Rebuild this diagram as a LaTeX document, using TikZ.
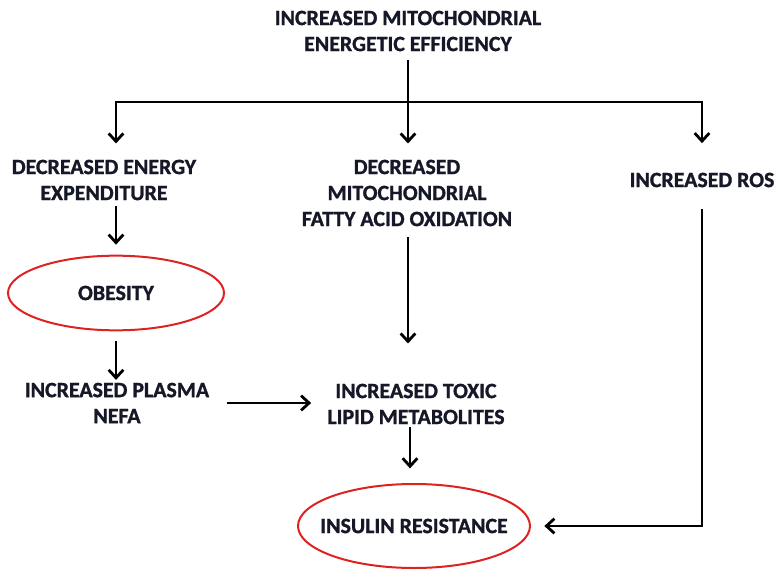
\documentclass[tikz,border=0pt]{standalone}
\usepackage{fontspec}
\setmainfont{Carlito}[BoldFeatures={FakeBold=1.2}]
\usetikzlibrary{positioning,arrows.meta,shapes.geometric}
\definecolor{inkdark}{RGB}{22,24,40}
\definecolor{ovalred}{RGB}{222,34,34}

\begin{document}
\begin{tikzpicture}[x=0.75pt,y=-0.75pt,
  every node/.style={font=\bfseries\fontsize{16.4}{19.5}\selectfont, text=inkdark, align=center, inner sep=2pt},
  flow/.style={line width=2.1pt, -{Straight Barb[length=6pt,width=11pt]}},
  oval/.style={draw=ovalred, line width=1.5pt, ellipse, inner xsep=-40pt, inner ysep=0pt}]
	%% page frame
	\useasboundingbox (0,0) rectangle (778,577);

	% the boxes
	\node (eff) at (408,31) {INCREASED MITOCHONDRIAL\\ENERGETIC EFFICIENCY};
	\coordinate (split) at (408,102);
	\node (energy) at (104,180) {DECREASED ENERGY\\EXPENDITURE};
	\node (fao) at (407,193) {DECREASED\\MITOCHONDRIAL\\FATTY ACID OXIDATION};
	\node (ros) at (702,180) {INCREASED ROS};
	\node[oval, minimum width=162pt, minimum height=56pt] (obesity) at (116,293) {OBESITY};
	\node (nefa) at (117,403) {INCREASED PLASMA\\NEFA};
	\node (toxic) at (416,404) {INCREASED TOXIC\\LIPID METABOLITES};
	\node[oval, minimum width=174pt, minimum height=63pt] (insulin) at (414,526) {INSULIN RESISTANCE};
	\coordinate (drop) at (410,0);

	% the arrows
	\draw[line width=2.1pt, shorten <=4pt] (eff.south -| split) -- (split);
	\draw[flow, shorten >=10pt] (split) -| (obesity.north |- energy.north);
	\draw[flow, shorten >=10pt] (split) -- (split |- fao.north);
	\draw[flow, shorten >=20pt] (split) -| (ros);
	\draw[flow, shorten <=2pt, shorten >=7.5pt] (energy.south -| obesity.north) -- (obesity.north);
	\draw[flow, shorten <=7.5pt] (obesity.south) -- (obesity.south |- nefa.north);
	\draw[flow, shorten <=6pt, shorten >=28pt] (fao.south -| split) -- (split |- toxic.north);
	\draw[flow, shorten <=11pt, shorten >=10pt] (nefa.east) -- (nefa.east -| toxic.west);
	\draw[flow, shorten >=11pt] (toxic.south -| drop) -- (insulin.north -| drop);
	\draw[flow, shorten <=14pt, shorten >=10pt] (ros) |- (insulin);
\end{tikzpicture}
\end{document}
